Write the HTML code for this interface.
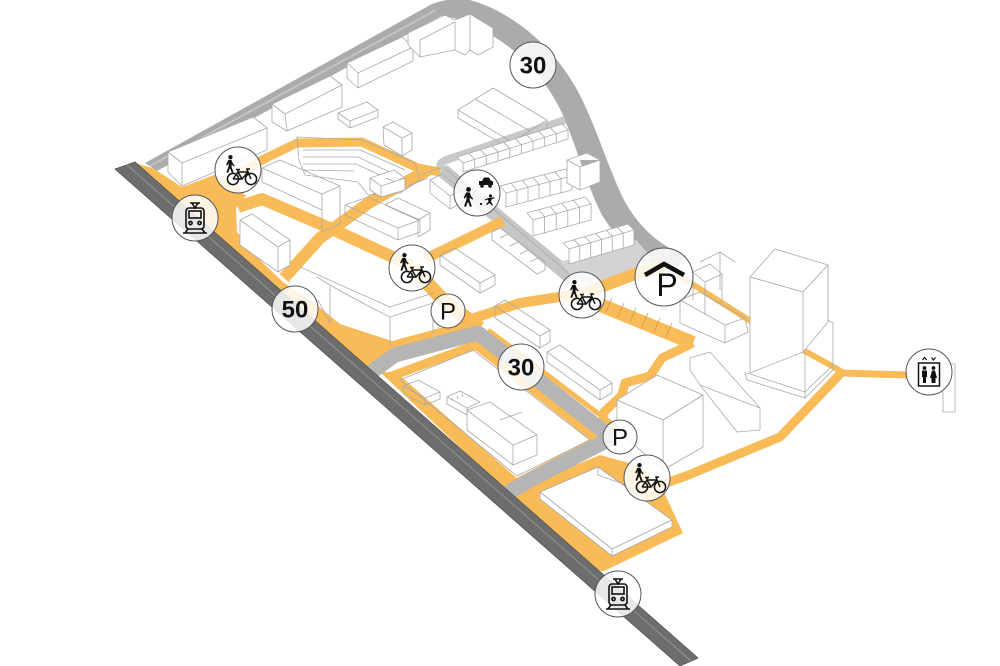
<!DOCTYPE html>
<html><head><meta charset="utf-8"><style>html,body{margin:0;padding:0;background:#fff;}svg{display:block;}</style></head>
<body>
<svg width="1000" height="666" viewBox="0 0 1000 666" xmlns="http://www.w3.org/2000/svg">
<defs>
<g id="ped" fill="#111"><circle cx="0.5" cy="-7.6" r="2.4"/><path d="M-1.8,-4.6 L1.6,-4.6 L3.2,-0.5 L5.2,1.6 L4.3,2.6 L1.9,0.6 L1.7,3.2 L3.9,9.3 L2,9.9 L0,4.6 L-2.1,9.9 L-4,9.3 L-1.6,2.6 L-1.6,-0.9 L-3.3,1.6 L-4.4,0.9 Z"/></g>
<g id="bike" fill="none" stroke="#111" stroke-width="1.5"><circle cx="-9" cy="0" r="5.6"/><circle cx="9" cy="0" r="5.6"/><path d="M-9,0 L-4,-7 L6,-7 L9,0 M-4,-7 L0,0 L6,-7 M-9,0 L0,0 M-6,-9.5 L-2,-9.5 M-4,-9.5 L-4,-7 M6,-7 L5,-10 L8,-10"/></g>
<g id="train" fill="none" stroke="#111" stroke-width="1.6"><path d="M-5,-16 H5 M-3,-16 L0,-11 L3,-16"/><rect x="-9" y="-11" width="18" height="21" rx="3"/><rect x="-6" y="-8" width="12" height="7"/><circle cx="-4.5" cy="4" r="1.6"/><circle cx="4.5" cy="4" r="1.6"/><path d="M-7,10 L-10,14 M7,10 L10,14 M-12,14 H12"/></g>
<g id="pb"><use href="#ped" transform="translate(-8,-6) scale(0.9)"/><use href="#bike" transform="translate(4,9)"/></g>
</defs>
<rect width="1000" height="666" fill="#fff"/>

<!-- upper gray roads -->
<path d="M145,163 L432,4 Q450,-3 470,0 C512,12 552,45 576,88 C594,120 606,162 622,196 C636,224 656,244 686,256 L672,273 C642,262 618,242 602,215 C588,188 577,148 562,113 C545,77 516,47 482,30 C466,22 452,16 441,16 L157,171 Z" fill="#ababab"/>
<path d="M150,166 L436,10" stroke="#c4c4c4" stroke-width="2" fill="none"/>
<path d="M565,120 L446,160 Q437,164 442,170" stroke="#c9c9c9" stroke-width="8" fill="none" stroke-linejoin="round"/>
<path d="M442,170 L574,280" stroke="#c6c6c6" stroke-width="14" fill="none"/>
<path d="M445,168 L572,276" stroke="#a8a8a8" stroke-width="0.8" fill="none"/>
<polygon points="560,262 636,240 652,258 604,284 575,281" fill="#d3d3d3"/>

<!-- orange -->
<g fill="#f8bb57">
<polygon points="135,163 152,168 165,176 182,187 214,175 235,186 246,196 236,208 237,232 262,262 283,282 318,306 340,324 392,341 470,320 476,331 400,353 372,371 360,372"/>
<polygon points="380,372 396,372 519,480 505,490"/>
<polygon points="505,490 525,486 600,455 640,466 662,488 683,533 604,571 590,571"/>
</g>
<g fill="none" stroke="#f8bb57" stroke-linejoin="round">
<path d="M236,176 L262,160 L297,143 L362,142 L418,168 L440,172" stroke-width="9"/>
<path d="M428,170 L370,202 L320,238 L284,278" stroke-width="12"/>
<path d="M238,207 L262,199 L332,229 L412,266" stroke-width="12"/>
<path d="M412,267 L446,303 L480,328" stroke-width="14"/>
<path d="M425,259 L462,241 L503,221" stroke-width="10"/>
<path d="M462,322 L520,303 L585,293" stroke-width="10"/>
<path d="M585,293 L640,272 L665,266" stroke-width="12"/>
<path d="M598,304 L693,343" stroke-width="14"/>
<path d="M693,343 L662,358 L650,376 L625,383 L622,395 L604,412 L603,430" stroke-width="9"/>
<path d="M488,330 L620,430 L650,455" stroke-width="5"/>
<path d="M658,486 L686,476 L780,437 L842,372" stroke-width="9"/>
<path d="M842,373 L908,375" stroke-width="7"/>
<path d="M678,275 L752,322 L832,366 L842,372" stroke-width="6"/>
<polygon points="392,376 476,345 598,440 515,484" stroke-width="9"/>
</g>
<g stroke="#c89545" stroke-width="0.7" fill="none">
<path d="M612,298 L606,312 M624,303 L618,317 M636,308 L630,322 M648,313 L642,327 M660,318 L654,332 M672,323 L666,337"/>
</g>

<!-- lower gray roads -->
<g fill="none" stroke="#b5b5b5" stroke-width="15" stroke-linejoin="round">
<path d="M366,376 L395,355 L478,333 L612,438"/>
<path d="M612,438 L530,480 L506,494"/>
</g>

<!-- rail -->
<polygon points="115,169 135,162 698,658 680,666" fill="#6d6d6d" stroke="#555" stroke-width="0.8"/>
<path d="M127,165 L691,661" stroke="#8e8e8e" stroke-width="1.2"/>

<!-- buildings -->
<g stroke="#a9a9a9" stroke-width="0.8" fill="none" stroke-linejoin="round">
<path fill="#fff" d="M168,152 L253,117 L267,128 L267,150 L182,186 L168,172 Z M182,163 L267,128 M182,163 L168,152 M182,163 L182,186"/>
<path fill="#fff" d="M272,104 L330,76 L342,85 L342,107 L287,131 L272,122 Z M285,114 L342,85 M285,114 L272,104 M285,114 L287,131"/>
<path fill="#fff" d="M347,63 L402,37 L413,47 L413,61 L358,88 L347,78 Z M358,73 L413,47 M358,73 L347,63 M358,73 L358,88"/>
<path fill="#fff" d="M408,33 L445,15 L455,20 L470,14 L493,28 L493,47 L478,55 L470,50 L465,55 L455,50 L420,57 L408,45 Z M420,40 L420,57 M455,22 L455,50 M420,40 L455,22 M470,14 L470,50"/>
<path d="M458,110 L493,88 L547,120 L512,142 Z M475,99 L530,131 M458,110 L458,118 L512,150 L512,142 M512,150 L547,128 L547,120"/>
<path d="M338,113 L367,102 L378,110 L350,121 Z M338,113 L338,119 L350,128 L378,117 L378,110 M350,121 L350,128"/>
<path d="M383,127 L393,122 L412,133 L412,150 L402,156 L384,145 Z M383,127 L402,138 L412,133 M402,138 L402,156"/>
<path d="M297,137 L362,140 L415,163 L420,180 L400,193 L368,195 L358,182 L305,175 L299,160 Z M303,150 L360,150 L405,170 M303,157 L358,157 L400,177 M303,164 L356,164 L395,182 M303,170 L354,171"/>
<path fill="#fff" d="M370,178 L394,170 L405,178 L405,190 L381,197 L370,190 Z M370,178 L381,186 L405,178 M381,186 L381,197"/>
<path d="M262,168 L280,160 L340,186 L322,194 Z M322,194 L322,232 L340,224 L340,186 M262,168 L262,182 L322,210"/>
<path fill="#fff" d="M240,220 L252,214 L290,240 L290,265 L278,272 L240,245 Z M240,220 L278,247 L290,240 M278,247 L278,272"/>
<path d="M345,205 L368,197 L420,220 L398,228 Z M398,228 L398,240 L420,232 L420,220 M345,205 L345,215 L398,240"/>
<path d="M385,205 L398,198 L430,213 L418,220 Z M418,220 L418,237 L430,230 L430,213"/>
<path d="M300,267 L390,307 L433,293 M317,277 Q340,292 390,317 L433,303 M390,317 L390,347 M433,303 L433,333 M330,286 L330,323 M318,300 L330,323"/>
<path d="M440,255 L455,248 L495,275 L480,283 Z M440,255 L440,265 L480,293 L480,283 M480,293 L495,285 L495,275"/>
<path d="M495,306 L505,300 L550,330 L540,336 Z M495,306 L495,318 L540,348 L540,336 M540,348 L550,342 L550,330"/>
<path d="M547,352 L560,345 L612,383 L600,390 Z M547,352 L547,362 L600,400 L600,390 M600,400 L612,393 L612,383"/>
<path d="M430,180 L442,174 L462,190 L462,203 L450,209 L430,193 Z M430,180 L450,196 L462,190 M450,196 L450,209"/>
<path d="M492,232 L500,228 L545,262 L545,270 L537,274 L492,240 Z M500,238 L508,234 M510,246 L518,242 M520,254 L528,250 M530,262 L538,258"/>
<path fill="#fff" d="M457,157 L562,124 L568,130 L463,163 Z M463,163 L568,130 L568,139 L463,172 Z"/>
<path d="M468.7,153.3 L474.7,159.3 L474.7,168.3 M480.3,149.7 L486.3,155.7 L486.3,164.7 M492,146 L498,152 L498,161 M503.7,142.3 L509.7,148.3 L509.7,157.3 M515.3,138.7 L521.3,144.7 L521.3,153.7 M527,135 L533,141 L533,150 M538.7,131.3 L544.7,137.3 L544.7,146.3 M550.3,127.7 L556.3,133.7 L556.3,142.7"/>
<path fill="#fff" d="M500,186 L566,169 L572,176 L506,193 Z M506,193 L572,176 L572,190 L506,207 Z"/>
<path d="M511,183.2 L517,190.2 L517,204.2 M522,180.3 L528,187.3 L528,201.3 M533,177.5 L539,184.5 L539,198.5 M544,174.7 L550,181.7 L550,195.7 M555,171.8 L561,178.8 L561,192.8"/>
<path fill="#fff" d="M527,213 L585,197 L591,204 L533,220 Z M533,220 L591,204 L591,220 L533,236 Z"/>
<path d="M538.6,209.8 L544.6,216.8 L544.6,232.8 M550.2,206.6 L556.2,213.6 L556.2,229.6 M561.8,203.4 L567.8,210.4 L567.8,226.4 M573.4,200.2 L579.4,207.2 L579.4,223.2"/>
<path fill="#fff" d="M563,243 L628,224 L634,230 L569,249 Z M569,249 L634,230 L634,245 L569,264 Z"/>
<path d="M573.8,239.8 L579.8,245.8 L579.8,260.8 M584.7,236.7 L590.7,242.7 L590.7,257.7 M595.5,233.5 L601.5,239.5 L601.5,254.5 M606.3,230.3 L612.3,236.3 L612.3,251.3 M617.2,227.2 L623.2,233.2 L623.2,248.2"/>
<path fill="#fff" d="M567,160 L587,153 L600,160 L600,182 L580,190 L567,183 Z M567,160 L580,167 L600,160 M580,167 L580,190"/>
<path d="M420,175 L440,168 M408,186 L428,178"/>
<path d="M400,380 L473,350 L590,440 L517,476 Z"/>
<path d="M403,386 L418,380 L440,392 L425,398 Z M403,386 L403,393 L425,405 L425,398 M425,405 L440,399 L440,392"/>
<path d="M447,397 L460,391 L480,402 L467,408 Z M447,397 L447,404 L467,415 L467,408 M452,398 L453,401 M457,396 L458,399 M462,394 L463,397"/>
<path d="M467,410 L490,402 L537,435 L513,445 Z M467,410 L467,430 L513,465 L513,445 M513,465 L537,455 L537,435 M500,420 L522,412"/>
<path fill="#fff" d="M540,492 L598,467 L672,520 L612,549 Z"/>
<path fill="#fff" d="M540,492 L540,499 L612,556 L612,549 Z M612,556 L672,527 L672,520 L612,549 Z"/>
<path d="M598,467 L598,475 L640,490"/>
<path fill="#fff" d="M617,400 L657,375 L703,395 L663,420 Z"/>
<path fill="#fff" d="M617,400 L617,430 L663,470 L663,420 Z M663,470 L703,447 L703,395 L663,420 Z"/>
<path d="M690,358 L710,352 L760,408 L760,430 L737,432 L700,385 L690,370 Z M700,385 L760,408"/>
<path d="M680,300 L700,292 L745,318 L748,332 L725,343 L680,323 Z M680,300 L725,325 L745,318 M725,325 L725,343"/>
<path d="M693,272 L710,264 L722,274 L705,282 Z M705,282 L705,315 M722,274 L722,305 M693,272 L693,300"/>
<path d="M700,262 L720,252 L735,262 M720,252 L720,290"/>
<path fill="#fff" d="M750,277 L775,249 L828,265 L803,292 Z"/>
<path fill="#fff" d="M750,277 L803,292 L803,352 L750,373 Z M803,292 L828,265 L828,322 L803,352 Z"/>
<path d="M745,372 L747,380 L805,398 L833,370 L833,323 L828,320 M805,398 L805,352 M747,373 L805,392 L833,365"/>
<rect x="943" y="364" width="12" height="48"/>
</g>

<!-- circles -->
<g fill="#fff" fill-opacity="0.84" stroke="#555" stroke-width="1">
<circle cx="533" cy="65" r="23"/>
<circle cx="238" cy="170" r="23"/>
<circle cx="195" cy="218" r="23"/>
<circle cx="477" cy="193" r="23"/>
<circle cx="412" cy="268" r="23"/>
<circle cx="295" cy="309" r="23"/>
<circle cx="448" cy="311" r="17"/>
<circle cx="582" cy="295" r="23"/>
<circle cx="664" cy="277" r="29"/>
<circle cx="521" cy="367" r="23"/>
<circle cx="620" cy="437" r="17"/>
<circle cx="647" cy="478" r="23"/>
<circle cx="929" cy="372" r="23"/>
<circle cx="618" cy="594" r="23"/>
</g>

<g font-family="'Liberation Sans', Arial, sans-serif" fill="#111" text-anchor="middle">
<text x="533" y="73.5" font-size="24" font-weight="bold">30</text>
<text x="295" y="317.5" font-size="24" font-weight="bold">50</text>
<text x="521" y="375.5" font-size="24" font-weight="bold">30</text>
<text x="448" y="319.5" font-size="24">P</text>
<text x="620" y="445.5" font-size="24">P</text>
<text x="667" y="296" font-size="32">P</text>
</g>
<path d="M645,275 L664,264 L684,275" stroke="#111" stroke-width="4.5" fill="none"/>

<use href="#pb" transform="translate(238,170)"/>
<use href="#pb" transform="translate(412,268)"/>
<use href="#pb" transform="translate(582,295)"/>
<use href="#pb" transform="translate(647,478)"/>
<use href="#train" transform="translate(195,219)"/>
<use href="#train" transform="translate(618,595)"/>

<use href="#ped" transform="translate(468,197)"/>
<g transform="translate(486,183)" fill="#111"><path d="M-7,2 L-7,-2 L-4,-2 L-2,-5.5 L3,-5.5 L5,-2 L7,-2 L7,2 Z"/><circle cx="-4" cy="3" r="1.8"/><circle cx="4" cy="3" r="1.8"/></g>
<g transform="translate(489,201)" fill="#111"><circle cx="1.5" cy="-5" r="1.6"/><path d="M-1,-3 L2,-3 L5,-4 L5.5,-3 L2.5,-1.5 L2,1 L4,4 L3,4.6 L0.5,2 L-2,4 L-3,3.2 L-0.5,0.5 L-1,-1.5 L-4,-0.5 L-4.3,-1.4 Z"/></g>
<circle cx="481" cy="204" r="1.1" fill="#111"/>

<g transform="translate(929,373)">
<rect x="-10.5" y="-10" width="21" height="23" fill="none" stroke="#111" stroke-width="1.5"/>
<circle cx="-4.5" cy="-5" r="1.9" fill="#111"/><path d="M-7,-2.5 H-2 V4 H-3 V10 H-6 V4 H-7 Z" fill="#111"/>
<circle cx="4.5" cy="-5" r="1.9" fill="#111"/><path d="M3,-2.5 H6 L8,5 H6.5 V10 H2.5 V5 H1 Z" fill="#111"/>
<path d="M-6.5,-13 L-4.5,-15.5 L-2.5,-13 M2.5,-15.5 L4.5,-13 L6.5,-15.5" stroke="#111" stroke-width="1.2" fill="none"/>
</g>
</svg>
</body></html>
